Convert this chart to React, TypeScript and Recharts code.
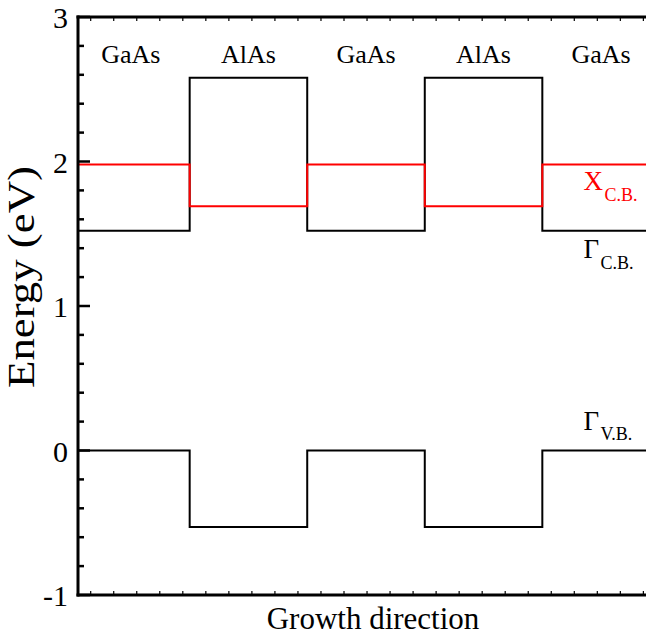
import React from 'react';
import { LineChart, Line, XAxis, YAxis, ReferenceDot } from 'recharts';

// Layer edges along the growth direction (arbitrary units, 10 per layer)
const layerEdges = [0, 9.5, 19.5, 29.5, 39.5, 49];
const layerNames = ['GaAs', 'AlAs', 'GaAs', 'AlAs', 'GaAs'];
const layerCenters = [4.5, 14.5, 24.5, 34.5, 44.5];

// Band-edge energies (eV) in each layer
const gammaCB = [1.52, 2.58, 1.52, 2.58, 1.52];
const xCB = [1.98, 1.69, 1.98, 1.69, 1.98];
const gammaVB = [0, -0.53, 0, -0.53, 0];

// Energy axis ticks: labelled majors every 1 eV, minors every 0.2 eV
const yTicks = [-1, -0.8, -0.6, -0.4, -0.2, 0, 0.2, 0.4, 0.6, 0.8, 1, 1.2, 1.4, 1.6, 1.8, 2, 2.2, 2.4, 2.6, 2.8, 3];
// Unlabelled minor ticks along the growth direction
const xTicks = Array.from({ length: 25 }, (_, i) => +(1.08 + i * 1.959).toFixed(3));

// Band labels: name, subscript, anchor (x in layer units, baseline in eV)
const bandLabelNames = ['X', 'Γ', 'Γ'];
const bandLabelSubs = ['C.B.', 'C.B.', 'V.B.'];
const bandLabelColors = ['#ff0000', '#000000', '#000000'];
const bandLabelX = [43.0, 43.0, 43.0];
const bandLabelY = [1.8, 1.33, 0.143];
const layerLabelY = 2.683;

const rows = layerEdges.map((x, i) => {
  const k = Math.min(i, layerNames.length - 1);
  return { x, gcb: gammaCB[k], xcb: xCB[k], gvb: gammaVB[k] };
});

const FONT = "'Liberation Serif', 'Times New Roman', Times, serif";
const serif = { fontFamily: FONT };
const W = 668;
const H = 637;
// each axis takes 1px of its own, so the plot box is 78..654 x 17..595
const M = { top: 16, right: 13, bottom: 41, left: 77 };
const PLOT = { left: 78, top: 17, width: 576, height: 578 };

const isMajor = (v: number) => Math.abs(v - Math.round(v)) < 1e-6;

const LeftTick = (p: any) => {
  const v = p.payload.value;
  const major = isMajor(v);
  return (
    <g>
      <line x1={p.x} x2={p.x + (major ? 12 : 6)} y1={p.y} y2={p.y} stroke="#000" strokeWidth={2.5} />
      {major && (
        <text x={p.x - 10} y={p.y + 11} textAnchor="end" fontSize={30} style={serif} fill="#000">
          {String(Math.round(v))}
        </text>
      )}
    </g>
  );
};

const RightTick = (p: any) => {
  const major = isMajor(p.payload.value);
  return <line x1={p.x} x2={p.x - (major ? 12 : 6)} y1={p.y} y2={p.y} stroke="#000" strokeWidth={2.5} />;
};

const TopTick = (p: any) => <line x1={p.x} x2={p.x} y1={p.y} y2={p.y + 4} stroke="#000" strokeWidth={1.2} />;
const BottomTick = (p: any) => <line x1={p.x} x2={p.x} y1={p.y} y2={p.y - 4} stroke="#000" strokeWidth={1.2} />;

const axisLine = { stroke: '#000', strokeWidth: 3, strokeLinecap: 'square' as const };

export default function App() {
  return (
    <div style={{ position: 'absolute', left: 0, top: 0, width: 646, height: 637, overflow: 'hidden' }}>
      <LineChart width={W} height={H} data={rows} margin={M}>
        <XAxis
          xAxisId="b"
          dataKey="x"
          type="number"
          domain={[0, 49]}
          ticks={xTicks}
          height={1}
          tickSize={0}
          tickMargin={0}
          tickLine={false}
          tick={BottomTick}
          axisLine={axisLine}
          interval={0}
          label={{
            content: () => (
              <text
                x={PLOT.left + PLOT.width / 2 + 7}
                y={629}
                textAnchor="middle"
                fontSize={31}
                style={serif}
                fill="#000"
              >
                Growth direction
              </text>
            ),
          }}
        />
        <XAxis
          xAxisId="t"
          orientation="top"
          dataKey="x"
          type="number"
          domain={[0, 49]}
          ticks={xTicks}
          height={1}
          tickSize={0}
          tickMargin={0}
          tickLine={false}
          tick={TopTick}
          axisLine={axisLine}
          interval={0}
        />
        <YAxis
          yAxisId="l"
          type="number"
          domain={[-1, 3]}
          ticks={yTicks}
          width={1}
          tickSize={0}
          tickMargin={0}
          tickLine={false}
          tick={LeftTick}
          axisLine={axisLine}
          interval={0}
          label={{
            content: () => {
              const cx = 34;
              const cy = 277;
              return (
                <text
                  x={cx}
                  y={cy}
                  transform={`rotate(-90, ${cx}, ${cy})`}
                  textAnchor="middle"
                  fontSize={37}
                  textLength={222}
                  lengthAdjust="spacingAndGlyphs"
                  style={serif}
                  fill="#000"
                >
                  Energy (eV)
                </text>
              );
            },
          }}
        />
        <YAxis
          yAxisId="r"
          orientation="right"
          type="number"
          domain={[-1, 3]}
          ticks={yTicks}
          width={1}
          tickSize={0}
          tickMargin={0}
          tickLine={false}
          tick={RightTick}
          axisLine={axisLine}
          interval={0}
        />
        <Line xAxisId="b" yAxisId="l" dataKey="gcb" type="stepAfter" stroke="#000" strokeWidth={2} dot={false} isAnimationActive={false} />
        <Line xAxisId="b" yAxisId="l" dataKey="gvb" type="stepAfter" stroke="#000" strokeWidth={2} dot={false} isAnimationActive={false} />
        <Line xAxisId="b" yAxisId="l" dataKey="xcb" type="stepAfter" stroke="#ff0000" strokeWidth={2} dot={false} isAnimationActive={false} />
        {layerNames.map((name, i) => (
          <ReferenceDot
            key={'layer' + i}
            xAxisId="b"
            yAxisId="l"
            x={layerCenters[i]}
            y={layerLabelY}
            r={0}
            shape={(p: any) => (
              <text x={p.cx} y={p.cy} textAnchor="middle" fontSize={26} style={serif} fill="#000">
                {name}
              </text>
            )}
          />
        ))}
        {bandLabelNames.map((name, i) => (
          <ReferenceDot
            key={'band' + i}
            xAxisId="b"
            yAxisId="l"
            x={bandLabelX[i]}
            y={bandLabelY[i]}
            r={0}
            shape={(p: any) => (
              <text x={p.cx} y={p.cy} fontSize={27} style={serif} fill={bandLabelColors[i]}>
                <tspan>{name}</tspan>
                <tspan dx={1.5} dy={10.5} fontSize={18}>
                  {bandLabelSubs[i]}
                </tspan>
              </text>
            )}
          />
        ))}
      </LineChart>
    </div>
  );
}
